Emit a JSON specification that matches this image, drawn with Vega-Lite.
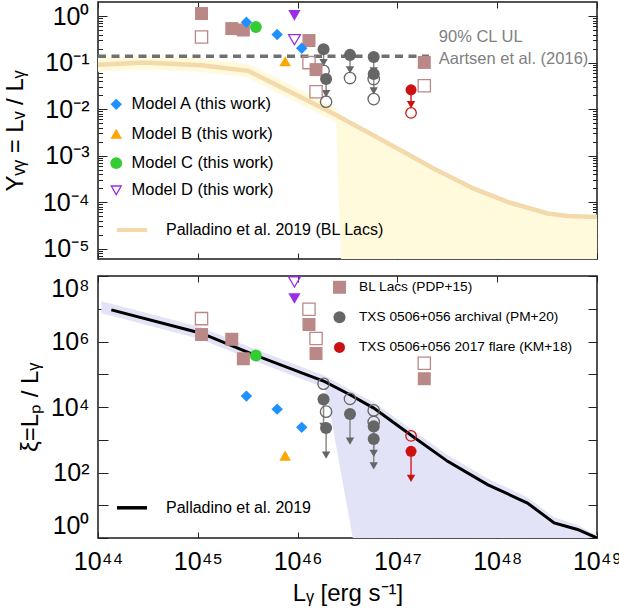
{
  "$schema": "https://vega.github.io/schema/vega-lite/v6.json",
  "padding": {"left": 2, "top": 0, "right": 0, "bottom": 0},
  "config": {
    "font": "Liberation Sans",
    "view": {"stroke": "#1a1a1a", "strokeWidth": 1.5},
    "axis": {"domain": false, "grid": false, "tickColor": "#222222", "tickWidth": 1, "labelFont": "Liberation Sans", "labelFontSize": 25, "labelColor": "#000000", "titleFont": "Liberation Sans", "titleFontSize": 24, "titleFontWeight": "normal", "titleColor": "#000000", "labelFlush": false, "labelOverlap": false, "labelBound": false, "minExtent": 0},
    "legend": {"padding": 0, "labelFont": "Liberation Sans", "labelColor": "#000000", "labelLimit": 500}
  },
  "datasets": {
    "pts": [
      {"panel": "top", "series": "Model A (this work)", "kind": "filled", "x": 3.07e45, "y": 0.733},
      {"panel": "top", "series": "Model A (this work)", "kind": "filled", "x": 6.24e45, "y": 0.40},
      {"panel": "top", "series": "Model A (this work)", "kind": "filled", "x": 1.10e46, "y": 0.203},
      {"panel": "top", "series": "Model B (this work)", "kind": "filled", "x": 7.5e45, "y": 0.107},
      {"panel": "top", "series": "Model C (this work)", "kind": "filled", "x": 3.82e45, "y": 0.58},
      {"panel": "top", "series": "Model D (this work)", "kind": "open", "x": 9.3e45, "y": 0.31},
      {"panel": "top", "series": "Model D (this work)", "kind": "filled", "x": 9.3e45, "y": 1.03},
      {"panel": "top", "series": "BL Lacs (PDP+15)", "kind": "filled", "x": 1.09e45, "y": 1.13},
      {"panel": "top", "series": "BL Lacs (PDP+15)", "kind": "filled", "x": 2.19e45, "y": 0.537},
      {"panel": "top", "series": "BL Lacs (PDP+15)", "kind": "filled", "x": 2.86e45, "y": 0.50},
      {"panel": "top", "series": "BL Lacs (PDP+15)", "kind": "filled", "x": 1.30e46, "y": 0.297},
      {"panel": "top", "series": "BL Lacs (PDP+15)", "kind": "filled", "x": 1.53e46, "y": 0.0705},
      {"panel": "top", "series": "BL Lacs (PDP+15)", "kind": "filled", "x": 1.86e47, "y": 0.1005},
      {"panel": "top", "series": "BL Lacs (PDP+15)", "kind": "open", "x": 1.09e45, "y": 0.355},
      {"panel": "top", "series": "BL Lacs (PDP+15)", "kind": "open", "x": 1.30e46, "y": 0.0995},
      {"panel": "top", "series": "BL Lacs (PDP+15)", "kind": "open", "x": 1.53e46, "y": 0.0236},
      {"panel": "top", "series": "BL Lacs (PDP+15)", "kind": "open", "x": 1.86e47, "y": 0.0317},
      {"panel": "top", "series": "TXS 0506+056 archival (PM+20)", "kind": "filled", "x": 1.82e46, "y": 0.194},
      {"panel": "top", "series": "TXS 0506+056 archival (PM+20)", "kind": "filled", "x": 1.93e46, "y": 0.0441},
      {"panel": "top", "series": "TXS 0506+056 archival (PM+20)", "kind": "filled", "x": 3.35e46, "y": 0.146},
      {"panel": "top", "series": "TXS 0506+056 archival (PM+20)", "kind": "filled", "x": 5.79e46, "y": 0.132},
      {"panel": "top", "series": "TXS 0506+056 archival (PM+20)", "kind": "filled", "x": 5.79e46, "y": 0.0565},
      {"panel": "top", "series": "TXS 0506+056 archival (PM+20)", "kind": "open", "x": 1.82e46, "y": 0.0664},
      {"panel": "top", "series": "TXS 0506+056 archival (PM+20)", "kind": "open", "x": 1.93e46, "y": 0.0144},
      {"panel": "top", "series": "TXS 0506+056 archival (PM+20)", "kind": "open", "x": 3.35e46, "y": 0.0464},
      {"panel": "top", "series": "TXS 0506+056 archival (PM+20)", "kind": "open", "x": 5.79e46, "y": 0.0441},
      {"panel": "top", "series": "TXS 0506+056 archival (PM+20)", "kind": "open", "x": 5.79e46, "y": 0.0164},
      {"panel": "top", "series": "TXS 0506+056 2017 flare (KM+18)", "kind": "filled", "x": 1.37e47, "y": 0.026},
      {"panel": "top", "series": "TXS 0506+056 2017 flare (KM+18)", "kind": "open", "x": 1.37e47, "y": 0.00826},
      {"panel": "bottom", "series": "Model A (this work)", "kind": "filled", "x": 3.07e45, "y": 2.15e4},
      {"panel": "bottom", "series": "Model A (this work)", "kind": "filled", "x": 6.24e45, "y": 8.6e3},
      {"panel": "bottom", "series": "Model A (this work)", "kind": "filled", "x": 1.10e46, "y": 2.39e3},
      {"panel": "bottom", "series": "Model B (this work)", "kind": "filled", "x": 7.5e45, "y": 327},
      {"panel": "bottom", "series": "Model C (this work)", "kind": "filled", "x": 3.82e45, "y": 3.74e5},
      {"panel": "bottom", "series": "Model D (this work)", "kind": "open", "x": 9.3e45, "y": 6.6e7},
      {"panel": "bottom", "series": "Model D (this work)", "kind": "filled", "x": 9.3e45, "y": 2.05e7},
      {"panel": "bottom", "series": "BL Lacs (PDP+15)", "kind": "filled", "x": 1.09e45, "y": 1.63e6},
      {"panel": "bottom", "series": "BL Lacs (PDP+15)", "kind": "filled", "x": 2.19e45, "y": 1.17e6},
      {"panel": "bottom", "series": "BL Lacs (PDP+15)", "kind": "filled", "x": 2.86e45, "y": 2.97e5},
      {"panel": "bottom", "series": "BL Lacs (PDP+15)", "kind": "filled", "x": 1.30e46, "y": 3.3e6},
      {"panel": "bottom", "series": "BL Lacs (PDP+15)", "kind": "filled", "x": 1.53e46, "y": 4.3e5},
      {"panel": "bottom", "series": "BL Lacs (PDP+15)", "kind": "filled", "x": 1.86e47, "y": 7.3e4},
      {"panel": "bottom", "series": "BL Lacs (PDP+15)", "kind": "open", "x": 1.09e45, "y": 5.0e6},
      {"panel": "bottom", "series": "BL Lacs (PDP+15)", "kind": "open", "x": 1.30e46, "y": 9.66e6},
      {"panel": "bottom", "series": "BL Lacs (PDP+15)", "kind": "open", "x": 1.53e46, "y": 1.23e6},
      {"panel": "bottom", "series": "BL Lacs (PDP+15)", "kind": "open", "x": 1.86e47, "y": 2.18e5},
      {"panel": "bottom", "series": "TXS 0506+056 archival (PM+20)", "kind": "filled", "x": 1.82e46, "y": 1.71e4},
      {"panel": "bottom", "series": "TXS 0506+056 archival (PM+20)", "kind": "filled", "x": 1.93e46, "y": 2.27e3},
      {"panel": "bottom", "series": "TXS 0506+056 archival (PM+20)", "kind": "filled", "x": 3.35e46, "y": 6.08e3},
      {"panel": "bottom", "series": "TXS 0506+056 archival (PM+20)", "kind": "filled", "x": 5.79e46, "y": 2.56e3},
      {"panel": "bottom", "series": "TXS 0506+056 archival (PM+20)", "kind": "filled", "x": 5.79e46, "y": 1.05e3},
      {"panel": "bottom", "series": "TXS 0506+056 archival (PM+20)", "kind": "open", "x": 1.82e46, "y": 5.13e4},
      {"panel": "bottom", "series": "TXS 0506+056 archival (PM+20)", "kind": "open", "x": 1.93e46, "y": 7.2e3},
      {"panel": "bottom", "series": "TXS 0506+056 archival (PM+20)", "kind": "open", "x": 3.35e46, "y": 1.77e4},
      {"panel": "bottom", "series": "TXS 0506+056 archival (PM+20)", "kind": "open", "x": 5.79e46, "y": 7.87e3},
      {"panel": "bottom", "series": "TXS 0506+056 archival (PM+20)", "kind": "open", "x": 5.79e46, "y": 3.5e3},
      {"panel": "bottom", "series": "TXS 0506+056 2017 flare (KM+18)", "kind": "filled", "x": 1.37e47, "y": 443},
      {"panel": "bottom", "series": "TXS 0506+056 2017 flare (KM+18)", "kind": "open", "x": 1.37e47, "y": 1.31e3}
    ],
    "arrows": [
      {"panel": "top", "series": "TXS 0506+056 archival (PM+20)", "x": 1.82e46, "y": 0.194, "y2": 0.0996},
      {"panel": "top", "series": "TXS 0506+056 archival (PM+20)", "x": 1.93e46, "y": 0.0441, "y2": 0.0216},
      {"panel": "top", "series": "TXS 0506+056 archival (PM+20)", "x": 3.35e46, "y": 0.146, "y2": 0.0696},
      {"panel": "top", "series": "TXS 0506+056 archival (PM+20)", "x": 5.79e46, "y": 0.132, "y2": 0.066},
      {"panel": "top", "series": "TXS 0506+056 archival (PM+20)", "x": 5.79e46, "y": 0.0565, "y2": 0.0246},
      {"panel": "top", "series": "TXS 0506+056 2017 flare (KM+18)", "x": 1.37e47, "y": 0.026, "y2": 0.0124},
      {"panel": "bottom", "series": "TXS 0506+056 archival (PM+20)", "x": 1.82e46, "y": 1.71e4, "y2": 2.57e3},
      {"panel": "bottom", "series": "TXS 0506+056 archival (PM+20)", "x": 1.93e46, "y": 2.27e3, "y2": 340},
      {"panel": "bottom", "series": "TXS 0506+056 archival (PM+20)", "x": 3.35e46, "y": 6.08e3, "y2": 912},
      {"panel": "bottom", "series": "TXS 0506+056 archival (PM+20)", "x": 5.79e46, "y": 2.56e3, "y2": 384},
      {"panel": "bottom", "series": "TXS 0506+056 archival (PM+20)", "x": 5.79e46, "y": 1.05e3, "y2": 158},
      {"panel": "bottom", "series": "TXS 0506+056 2017 flare (KM+18)", "x": 1.37e47, "y": 443, "y2": 66}
    ],
    "topline": [
      {"x": 1e44, "y": 0.0893}, {"x": 2.9e44, "y": 0.1005}, {"x": 1.08e45, "y": 0.0879},
      {"x": 3.19e45, "y": 0.0664}, {"x": 6.37e45, "y": 0.0317}, {"x": 1.36e46, "y": 0.014},
      {"x": 2.32e46, "y": 0.00785}, {"x": 5.05e46, "y": 0.00318}, {"x": 1.09e47, "y": 0.00129},
      {"x": 2.33e47, "y": 0.00052}, {"x": 5.85e47, "y": 0.000195}, {"x": 1.27e48, "y": 0.000101},
      {"x": 3.2e48, "y": 0.000057}, {"x": 5.07e48, "y": 0.0000506}, {"x": 1e49, "y": 0.000048}
    ],
    "topband": [
      {"x": 1e44, "lo": 0.0633, "hi": 0.126}, {"x": 2.9e44, "lo": 0.0713, "hi": 0.142},
      {"x": 1.08e45, "lo": 0.0623, "hi": 0.124}, {"x": 3.19e45, "lo": 0.0471, "hi": 0.0936},
      {"x": 6.37e45, "lo": 0.0225, "hi": 0.0447}, {"x": 1.36e46, "lo": 0.00993, "hi": 0.0197},
      {"x": 2.32e46, "lo": 0.00557, "hi": 0.0111}, {"x": 2.43e46, "lo": 0.00528, "hi": 0.0105},
      {"x": 2.72e46, "lo": 6e-6, "hi": 0.0066}, {"x": 5.05e46, "lo": 6e-6, "hi": 0.00318},
      {"x": 1.09e47, "lo": 6e-6, "hi": 0.00129}, {"x": 2.33e47, "lo": 6e-6, "hi": 0.00052},
      {"x": 5.85e47, "lo": 6e-6, "hi": 0.000195}, {"x": 1.27e48, "lo": 6e-6, "hi": 0.000101},
      {"x": 3.2e48, "lo": 6e-6, "hi": 0.000057}, {"x": 5.07e48, "lo": 6e-6, "hi": 0.0000506},
      {"x": 1e49, "lo": 6e-6, "hi": 0.000048}
    ],
    "botline": [
      {"x": 1.36e44, "y": 9.25e6}, {"x": 1.08e45, "y": 1.79e6}, {"x": 3.67e45, "y": 3.93e5},
      {"x": 1.36e46, "y": 8.57e4}, {"x": 1.85e46, "y": 6.03e4}, {"x": 3.35e46, "y": 2.37e4},
      {"x": 5.79e46, "y": 9.27e3}, {"x": 1.35e47, "y": 1.43e3}, {"x": 3.19e47, "y": 219},
      {"x": 8.0e47, "y": 42.7}, {"x": 2.01e48, "y": 11.7}, {"x": 3.72e48, "y": 2.88},
      {"x": 6.38e48, "y": 1.82}, {"x": 1e49, "y": 1.0}
    ],
    "botband": [
      {"x": 1.08e44, "lo": 7.3e6, "hi": 1.69e7}, {"x": 1.36e44, "lo": 6.1e6, "hi": 1.41e7},
      {"x": 1.08e45, "lo": 1.18e6, "hi": 2.72e6}, {"x": 3.67e45, "lo": 2.59e5, "hi": 5.97e5},
      {"x": 1.36e46, "lo": 5.64e4, "hi": 1.30e5}, {"x": 1.85e46, "lo": 3.96e4, "hi": 9.2e4},
      {"x": 2.07e46, "lo": 1.0e4, "hi": 7.7e4}, {"x": 3.57e46, "lo": 1, "hi": 3.0e4},
      {"x": 5.79e46, "lo": 1, "hi": 1.39e4}, {"x": 1.35e47, "lo": 1, "hi": 2.2e3},
      {"x": 3.19e47, "lo": 1, "hi": 340}, {"x": 8.0e47, "lo": 1, "hi": 66},
      {"x": 2.01e48, "lo": 1, "hi": 17.5}, {"x": 3.72e48, "lo": 1, "hi": 4.3},
      {"x": 6.38e48, "lo": 1, "hi": 2.5}, {"x": 1e49, "lo": 1, "hi": 1.2}
    ],
    "ul": [{"x": 1e44, "y": 0.137}, {"x": 2.07e47, "y": 0.137}],
    "notes": [
      {"x": 2.6e47, "y": 0.359, "label": "90% CL UL"},
      {"x": 2.6e47, "y": 0.118, "label": "Aartsen et al. (2016)"}
    ]
  },
  "spacing": 10,
  "resolve": {"scale": {"color": "independent", "fill": "independent", "stroke": "independent", "shape": "independent", "size": "independent"}, "legend": {"color": "independent", "fill": "independent", "stroke": "independent", "shape": "independent", "size": "independent"}},
  "vconcat": [
    {
      "width": 499, "height": 257,
      "layer": [
        {
          "layer": [
            {
              "data": {"name": "topband"},
              "mark": {"type": "area", "color": "#fffadc", "clip": true},
              "encoding": {
                "x": {"field": "x", "type": "quantitative", "scale": {"type": "log", "domain": [1e44, 1e49], "nice": false},
                      "axis": {"orient": "bottom", "values": [1e44, 1e45, 1e46, 1e47, 1e48, 1e49], "tickSize": -6, "labels": false, "title": null}},
                "y": {"field": "lo", "type": "quantitative", "scale": {"type": "log", "domain": [6e-6, 2], "nice": false},
                      "axis": {"orient": "left", "values": [7e-6, 8e-6, 9e-6, 1e-5, 2e-5, 3e-5, 4e-5, 5e-5, 6e-5, 7e-5, 8e-5, 9e-5, 1e-4, 2e-4, 3e-4, 4e-4, 5e-4, 6e-4, 7e-4, 8e-4, 9e-4, 0.001, 0.002, 0.003, 0.004, 0.005, 0.006, 0.007, 0.008, 0.009, 0.01, 0.02, 0.03, 0.04, 0.05, 0.06, 0.07, 0.08, 0.09, 0.1, 0.2, 0.3, 0.4, 0.5, 0.6, 0.7, 0.8, 0.9, 1],
                               "tickSize": {"condition": {"test": "abs(log(datum.value)/LN10 - round(log(datum.value)/LN10)) < 0.001", "value": -9}, "value": -4.5},
                               "labelFontSize": {"condition": {"test": "abs(log(datum.value)/LN10 - round(log(datum.value)/LN10)) < 0.001", "value": 25}, "value": 0},
                               "labelExpr": "abs(log(datum.value)/LN10 - round(log(datum.value)/LN10)) < 0.001 ? ['10⁰','10⁻¹','10⁻²','10⁻³','10⁻⁴','10⁻⁵'][-round(log(datum.value)/LN10)] : ''",
                               "labelPadding": 18, "title": "Yᵥᵧ = Lᵥ / Lᵧ", "titlePadding": 15}},
                "y2": {"field": "hi"}
              }
            },
            {
              "data": {"name": "topline"},
              "mark": {"type": "line", "strokeWidth": 4.5, "clip": true},
              "encoding": {
                "x": {"field": "x", "type": "quantitative"},
                "y": {"field": "y", "type": "quantitative"},
                "stroke": {"datum": "Palladino et al. 2019 (BL Lacs)", "type": "nominal", "scale": {"range": ["#f3d9ab"]},
                           "legend": {"orient": "none", "legendX": 17, "legendY": 211, "symbolType": "stroke", "symbolSize": 900, "symbolStrokeWidth": 4, "labelFontSize": 16, "labelOffset": 17, "title": null}}
              }
            },
            {
              "data": {"name": "ul"},
              "mark": {"type": "line", "color": "#707070", "strokeWidth": 3.5, "strokeDash": [8, 5.5]},
              "encoding": {"x": {"field": "x", "type": "quantitative"}, "y": {"field": "y", "type": "quantitative"}}
            },
            {
              "data": {"name": "notes"},
              "mark": {"type": "text", "align": "left", "baseline": "middle", "fontSize": 16.5, "color": "#808080"},
              "encoding": {"x": {"field": "x", "type": "quantitative"}, "y": {"field": "y", "type": "quantitative"}, "text": {"field": "label"}}
            },
            {
              "data": {"name": "arrows"},
              "transform": [{"filter": "datum.panel == 'top'"}],
              "mark": {"type": "rule", "strokeWidth": 1.5},
              "encoding": {
                "x": {"field": "x", "type": "quantitative"}, "y": {"field": "y", "type": "quantitative"}, "y2": {"field": "y2"},
                "color": {"field": "series", "type": "nominal", "scale": {"domain": ["TXS 0506+056 archival (PM+20)", "TXS 0506+056 2017 flare (KM+18)"], "range": ["#8a8a8a", "#d42a2a"]}, "legend": null}
              }
            },
            {
              "data": {"name": "arrows"},
              "transform": [{"filter": "datum.panel == 'top'"}],
              "mark": {"type": "point", "shape": "triangle-down", "filled": true, "size": 70, "opacity": 1},
              "encoding": {
                "x": {"field": "x", "type": "quantitative"}, "y": {"field": "y2", "type": "quantitative"},
                "color": {"field": "series", "type": "nominal", "scale": {"domain": ["TXS 0506+056 archival (PM+20)", "TXS 0506+056 2017 flare (KM+18)"], "range": ["#666666", "#cc1111"]}, "legend": null}
              }
            },
            {
              "data": {"name": "pts"},
              "transform": [{"filter": "datum.panel == 'top' && datum.kind == 'open' && indexof(datum.series, 'Model') < 0"}],
              "mark": {"type": "point", "filled": false, "strokeWidth": 1.3, "opacity": 1, "fill": "transparent"},
              "encoding": {
                "x": {"field": "x", "type": "quantitative"}, "y": {"field": "y", "type": "quantitative"},
                "stroke": {"field": "series", "type": "nominal", "scale": {"domain": ["BL Lacs (PDP+15)", "TXS 0506+056 archival (PM+20)", "TXS 0506+056 2017 flare (KM+18)"], "range": ["#bb8888", "#666666", "#cc1111"]}, "legend": null},
                "shape": {"field": "series", "type": "nominal", "scale": {"domain": ["BL Lacs (PDP+15)", "TXS 0506+056 archival (PM+20)", "TXS 0506+056 2017 flare (KM+18)"], "range": ["square", "circle", "circle"]}, "legend": null},
                "size": {"field": "series", "type": "nominal", "scale": {"domain": ["BL Lacs (PDP+15)", "TXS 0506+056 archival (PM+20)", "TXS 0506+056 2017 flare (KM+18)"], "range": [150, 110, 110]}, "legend": null}
              }
            },
            {
              "data": {"name": "pts"},
              "transform": [{"filter": "datum.panel == 'top' && datum.kind == 'filled' && indexof(datum.series, 'Model') < 0"}],
              "mark": {"type": "point", "filled": true, "opacity": 1},
              "encoding": {
                "x": {"field": "x", "type": "quantitative"}, "y": {"field": "y", "type": "quantitative"},
                "color": {"field": "series", "type": "nominal", "scale": {"domain": ["BL Lacs (PDP+15)", "TXS 0506+056 archival (PM+20)", "TXS 0506+056 2017 flare (KM+18)"], "range": ["#bb8888", "#666666", "#cc1111"]}, "legend": null},
                "shape": {"field": "series", "type": "nominal", "scale": {"domain": ["BL Lacs (PDP+15)", "TXS 0506+056 archival (PM+20)", "TXS 0506+056 2017 flare (KM+18)"], "range": ["square", "circle", "circle"]}, "legend": null},
                "size": {"field": "series", "type": "nominal", "scale": {"domain": ["BL Lacs (PDP+15)", "TXS 0506+056 archival (PM+20)", "TXS 0506+056 2017 flare (KM+18)"], "range": [169, 121, 128]}, "legend": null}
              }
            },
            {
              "data": {"name": "pts"},
              "transform": [{"filter": "datum.panel == 'top' && datum.series == 'Model D (this work)' && datum.kind == 'filled'"}],
              "mark": {"type": "point", "filled": true, "opacity": 1, "shape": "triangle-down", "size": 150, "color": "#9a2ee8"},
              "encoding": {"x": {"field": "x", "type": "quantitative"}, "y": {"field": "y", "type": "quantitative"}}
            },
            {
              "data": {"name": "pts"},
              "transform": [{"filter": "datum.panel == 'top' && indexof(datum.series, 'Model') == 0 && datum.series != 'Model D (this work)'"}],
              "mark": {"type": "point", "filled": true, "opacity": 1},
              "encoding": {
                "x": {"field": "x", "type": "quantitative"}, "y": {"field": "y", "type": "quantitative"},
                "color": {"field": "series", "type": "nominal", "scale": {"domain": ["Model A (this work)", "Model B (this work)", "Model C (this work)"], "range": ["#1e90ff", "#ffa500", "#33cc33"]},
                          "legend": {"orient": "none", "legendX": 10, "legendY": 94.1, "title": null, "labelFontSize": 16.5, "rowPadding": 12.4, "symbolSize": 100, "labelOffset": 7, "labelLimit": 500}},
                "shape": {"field": "series", "type": "nominal", "scale": {"domain": ["Model A (this work)", "Model B (this work)", "Model C (this work)"], "range": ["diamond", "triangle-up", "circle"]},
                          "legend": {"orient": "none", "legendX": 10, "legendY": 94.1, "title": null, "labelFontSize": 16.5, "rowPadding": 12.4, "symbolSize": 100, "labelOffset": 7, "labelLimit": 500}},
                "size": {"field": "series", "type": "nominal", "scale": {"domain": ["Model A (this work)", "Model B (this work)", "Model C (this work)"], "range": [130, 140, 150]}, "legend": null}
              }
            },
            {
              "data": {"name": "pts"},
              "transform": [{"filter": "datum.panel == 'top' && datum.series == 'Model D (this work)' && datum.kind == 'open'"}],
              "mark": {"type": "point", "filled": false, "opacity": 1, "strokeWidth": 1.3, "size": 140, "fill": "transparent"},
              "encoding": {
                "x": {"field": "x", "type": "quantitative"}, "y": {"field": "y", "type": "quantitative"},
                "stroke": {"field": "series", "type": "nominal", "scale": {"domain": ["Model D (this work)"], "range": ["#9a2ee8"]},
                           "legend": {"orient": "none", "legendX": 10, "legendY": 180.1, "title": null, "labelFontSize": 16.5, "symbolSize": 100, "labelOffset": 7, "labelLimit": 500, "symbolStrokeWidth": 1.3}},
                "shape": {"field": "series", "type": "nominal", "scale": {"domain": ["Model D (this work)"], "range": ["triangle-down"]},
                          "legend": {"orient": "none", "legendX": 10, "legendY": 180.1, "title": null, "labelFontSize": 16.5, "symbolSize": 100, "labelOffset": 7, "labelLimit": 500, "symbolStrokeWidth": 1.3}}
              }
            }
          ],
          "resolve": {"scale": {"color": "independent", "fill": "independent", "stroke": "independent", "shape": "independent", "size": "independent"}}
        },
        {
          "data": {"name": "ul"},
          "mark": {"type": "point", "opacity": 0},
          "encoding": {
            "x": {"field": "x", "type": "quantitative", "scale": {"type": "log", "domain": [1e44, 1e49], "nice": false},
                  "axis": {"orient": "top", "values": [1e44, 1e45, 1e46, 1e47, 1e48, 1e49], "tickSize": -6, "labels": false, "title": null}},
            "y": {"field": "y", "type": "quantitative", "scale": {"type": "log", "domain": [6e-6, 2], "nice": false},
                  "axis": {"orient": "right", "values": [7e-6, 8e-6, 9e-6, 1e-5, 2e-5, 3e-5, 4e-5, 5e-5, 6e-5, 7e-5, 8e-5, 9e-5, 1e-4, 2e-4, 3e-4, 4e-4, 5e-4, 6e-4, 7e-4, 8e-4, 9e-4, 0.001, 0.002, 0.003, 0.004, 0.005, 0.006, 0.007, 0.008, 0.009, 0.01, 0.02, 0.03, 0.04, 0.05, 0.06, 0.07, 0.08, 0.09, 0.1, 0.2, 0.3, 0.4, 0.5, 0.6, 0.7, 0.8, 0.9, 1],
                           "tickSize": {"condition": {"test": "abs(log(datum.value)/LN10 - round(log(datum.value)/LN10)) < 0.001", "value": -9}, "value": -4.5},
                           "labels": false, "title": null}}
          }
        }
      ],
      "resolve": {"axis": {"x": "independent", "y": "independent"}}
    },
    {
      "width": 499, "height": 262,
      "layer": [
        {
          "layer": [
            {
              "data": {"name": "botband"},
              "mark": {"type": "area", "color": "#e3e3f7", "clip": true},
              "encoding": {
                "x": {"field": "x", "type": "quantitative", "scale": {"type": "log", "domain": [1e44, 1e49], "nice": false},
                      "axis": {"orient": "bottom", "values": [1e44, 1e45, 1e46, 1e47, 1e48, 1e49], "tickSize": -6,
                               "labelExpr": "['10⁴⁴','10⁴⁵','10⁴⁶','10⁴⁷','10⁴⁸','10⁴⁹'][round(log(datum.value)/LN10) - 44]",
                               "labelPadding": 17, "title": "Lᵧ [erg s⁻¹]", "titlePadding": 7.5}},
                "y": {"field": "lo", "type": "quantitative", "scale": {"type": "log", "domain": [1, 1e8], "nice": false},
                      "axis": {"orient": "left", "values": [1, 10, 100, 1000, 1e4, 1e5, 1e6, 1e7, 1e8], "tickSize": -10,
                               "labelExpr": "['10⁰','','10²','','10⁴','','10⁶','','10⁸'][round(log(datum.value)/LN10)]",
                               "labelFlush": true, "labelPadding": 19, "title": "ξ=Lₚ / Lᵧ", "titlePadding": 8}},
                "y2": {"field": "hi"}
              }
            },
            {
              "data": {"name": "botline"},
              "mark": {"type": "line", "strokeWidth": 3, "clip": true},
              "encoding": {
                "x": {"field": "x", "type": "quantitative"},
                "y": {"field": "y", "type": "quantitative"},
                "stroke": {"datum": "Palladino et al. 2019", "type": "nominal", "scale": {"range": ["#000000"]},
                           "legend": {"orient": "none", "legendX": 17, "legendY": 214.8, "symbolType": "stroke", "symbolSize": 900, "symbolStrokeWidth": 3.5, "labelFontSize": 16, "labelOffset": 17, "title": null}}
              }
            },
            {
              "data": {"name": "arrows"},
              "transform": [{"filter": "datum.panel == 'bottom'"}],
              "mark": {"type": "rule", "strokeWidth": 1.5},
              "encoding": {
                "x": {"field": "x", "type": "quantitative"}, "y": {"field": "y", "type": "quantitative"}, "y2": {"field": "y2"},
                "color": {"field": "series", "type": "nominal", "scale": {"domain": ["TXS 0506+056 archival (PM+20)", "TXS 0506+056 2017 flare (KM+18)"], "range": ["#8a8a8a", "#d42a2a"]}, "legend": null}
              }
            },
            {
              "data": {"name": "arrows"},
              "transform": [{"filter": "datum.panel == 'bottom'"}],
              "mark": {"type": "point", "shape": "triangle-down", "filled": true, "size": 70, "opacity": 1},
              "encoding": {
                "x": {"field": "x", "type": "quantitative"}, "y": {"field": "y2", "type": "quantitative"},
                "color": {"field": "series", "type": "nominal", "scale": {"domain": ["TXS 0506+056 archival (PM+20)", "TXS 0506+056 2017 flare (KM+18)"], "range": ["#666666", "#cc1111"]}, "legend": null}
              }
            },
            {
              "data": {"name": "pts"},
              "transform": [{"filter": "datum.panel == 'bottom' && datum.kind == 'open' && indexof(datum.series, 'Model') < 0"}],
              "mark": {"type": "point", "filled": false, "strokeWidth": 1.3, "opacity": 1, "fill": "transparent"},
              "encoding": {
                "x": {"field": "x", "type": "quantitative"}, "y": {"field": "y", "type": "quantitative"},
                "stroke": {"field": "series", "type": "nominal", "scale": {"domain": ["BL Lacs (PDP+15)", "TXS 0506+056 archival (PM+20)", "TXS 0506+056 2017 flare (KM+18)"], "range": ["#bb8888", "#666666", "#cc1111"]}, "legend": null},
                "shape": {"field": "series", "type": "nominal", "scale": {"domain": ["BL Lacs (PDP+15)", "TXS 0506+056 archival (PM+20)", "TXS 0506+056 2017 flare (KM+18)"], "range": ["square", "circle", "circle"]}, "legend": null},
                "size": {"field": "series", "type": "nominal", "scale": {"domain": ["BL Lacs (PDP+15)", "TXS 0506+056 archival (PM+20)", "TXS 0506+056 2017 flare (KM+18)"], "range": [150, 110, 110]}, "legend": null}
              }
            },
            {
              "data": {"name": "pts"},
              "transform": [{"filter": "datum.panel == 'bottom' && datum.kind == 'filled' && indexof(datum.series, 'Model') < 0"}],
              "mark": {"type": "point", "filled": true, "opacity": 1},
              "encoding": {
                "x": {"field": "x", "type": "quantitative"}, "y": {"field": "y", "type": "quantitative"},
                "color": {"field": "series", "type": "nominal", "scale": {"domain": ["BL Lacs (PDP+15)", "TXS 0506+056 archival (PM+20)", "TXS 0506+056 2017 flare (KM+18)"], "range": ["#bb8888", "#666666", "#cc1111"]},
                          "legend": {"orient": "none", "legendX": 234, "legendY": 3.8, "title": null, "labelFontSize": 13.7, "rowPadding": 15.4, "symbolSize": 70, "labelOffset": 12, "labelLimit": 500}},
                "shape": {"field": "series", "type": "nominal", "scale": {"domain": ["BL Lacs (PDP+15)", "TXS 0506+056 archival (PM+20)", "TXS 0506+056 2017 flare (KM+18)"], "range": ["square", "circle", "circle"]},
                          "legend": {"orient": "none", "legendX": 234, "legendY": 3.8, "title": null, "labelFontSize": 13.7, "rowPadding": 15.4, "symbolSize": 70, "labelOffset": 12, "labelLimit": 500}},
                "size": {"field": "series", "type": "nominal", "scale": {"domain": ["BL Lacs (PDP+15)", "TXS 0506+056 archival (PM+20)", "TXS 0506+056 2017 flare (KM+18)"], "range": [169, 121, 128]}, "legend": null}
              }
            },
            {
              "data": {"name": "pts"},
              "transform": [{"filter": "datum.panel == 'bottom' && datum.series == 'Model D (this work)' && datum.kind == 'filled'"}],
              "mark": {"type": "point", "filled": true, "opacity": 1, "shape": "triangle-down", "size": 150, "color": "#9a2ee8"},
              "encoding": {"x": {"field": "x", "type": "quantitative"}, "y": {"field": "y", "type": "quantitative"}}
            },
            {
              "data": {"name": "pts"},
              "transform": [{"filter": "datum.panel == 'bottom' && indexof(datum.series, 'Model') == 0 && datum.series != 'Model D (this work)'"}],
              "mark": {"type": "point", "filled": true, "opacity": 1},
              "encoding": {
                "x": {"field": "x", "type": "quantitative"}, "y": {"field": "y", "type": "quantitative"},
                "color": {"field": "series", "type": "nominal", "scale": {"domain": ["Model A (this work)", "Model B (this work)", "Model C (this work)"], "range": ["#1e90ff", "#ffa500", "#33cc33"]}, "legend": null},
                "shape": {"field": "series", "type": "nominal", "scale": {"domain": ["Model A (this work)", "Model B (this work)", "Model C (this work)"], "range": ["diamond", "triangle-up", "circle"]}, "legend": null},
                "size": {"field": "series", "type": "nominal", "scale": {"domain": ["Model A (this work)", "Model B (this work)", "Model C (this work)"], "range": [130, 140, 150]}, "legend": null}
              }
            },
            {
              "data": {"name": "pts"},
              "transform": [{"filter": "datum.panel == 'bottom' && datum.series == 'Model D (this work)' && datum.kind == 'open'"}],
              "mark": {"type": "point", "filled": false, "opacity": 1, "strokeWidth": 1.3, "size": 140, "shape": "triangle-down", "color": "#9a2ee8", "fill": "transparent"},
              "encoding": {"x": {"field": "x", "type": "quantitative"}, "y": {"field": "y", "type": "quantitative"}}
            }
          ],
          "resolve": {"scale": {"color": "independent", "fill": "independent", "stroke": "independent", "shape": "independent", "size": "independent"}}
        },
        {
          "data": {"name": "ul"},
          "mark": {"type": "point", "opacity": 0},
          "encoding": {
            "x": {"field": "x", "type": "quantitative", "scale": {"type": "log", "domain": [1e44, 1e49], "nice": false},
                  "axis": {"orient": "top", "values": [1e44, 1e45, 1e46, 1e47, 1e48, 1e49], "tickSize": -6, "labels": false, "title": null}},
            "y": {"field": "y", "type": "quantitative", "scale": {"type": "log", "domain": [1, 1e8], "nice": false},
                  "axis": {"orient": "right", "values": [1, 10, 100, 1000, 1e4, 1e5, 1e6, 1e7, 1e8], "tickSize": -9, "labels": false, "title": null}}
          }
        }
      ],
      "resolve": {"axis": {"x": "independent", "y": "independent"}}
    }
  ]
}
